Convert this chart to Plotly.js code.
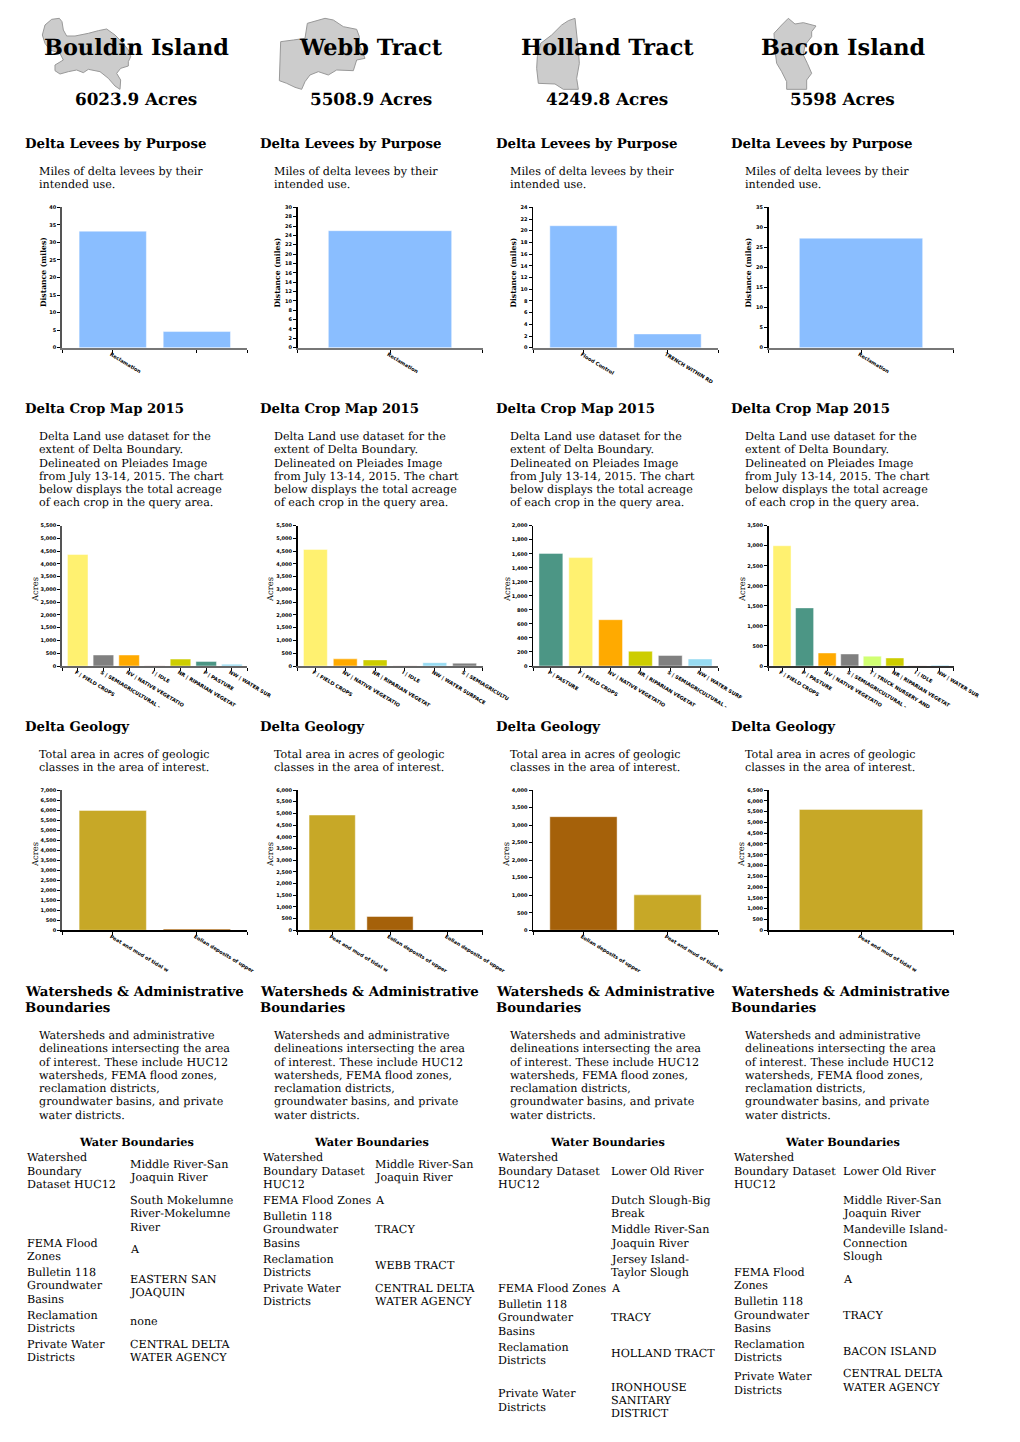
<!DOCTYPE html>
<html><head><meta charset="utf-8">
<script src="https://cdn.plot.ly/plotly-3.0.1.min.js"></script>
<style>html,body{margin:0;padding:0;background:#fff} svg text{text-rendering:geometricPrecision}</style></head>
<body><div id="chart" style="width:1020px;height:1442px"></div>
<script>
// ---------- data ----------
const islands = ["Bouldin Island", "Webb Tract", "Holland Tract", "Bacon Island"];
const acres = ["6023.9 Acres", "5508.9 Acres", "4249.8 Acres", "5598 Acres"];

const leveeCatsBouldin = ["Reclamation", ""];
const leveeValsBouldin = [33.2, 4.6];
const leveeCatsWebb = ["Reclamation"];
const leveeValsWebb = [25.0];
const leveeCatsHolland = ["Flood Control", "TRENCH WITHIN RD"];
const leveeValsHolland = [20.85, 2.35];
const leveeCatsBacon = ["Reclamation"];
const leveeValsBacon = [27.3];

const cropCatsBouldin = ["F | FIELD CROPS", "S | SEMIAGRICULTURAL -", "NV | NATIVE VEGETATIO", "I | IDLE", "NR | RIPARIAN VEGETAT", "P | PASTURE", "NW | WATER SUR"];
const cropValsBouldin = [4370, 430, 430, 5, 270, 180, 70];
const cropCatsWebb = ["F | FIELD CROPS", "NV | NATIVE VEGETATIO", "NR | RIPARIAN VEGETAT", "I | IDLE", "NW | WATER SURFACE", "S | SEMIAGRICULTU"];
const cropValsWebb = [4570, 280, 240, 10, 130, 110];
const cropCatsHolland = ["P | PASTURE", "F | FIELD CROPS", "NV | NATIVE VEGETATIO", "NR | RIPARIAN VEGETAT", "S | SEMIAGRICULTURAL -", "NW | WATER SURF"];
const cropValsHolland = [1605, 1545, 660, 210, 150, 100];
const cropCatsBacon = ["F | FIELD CROPS", "P | PASTURE", "NV | NATIVE VEGETATIO", "S | SEMIAGRICULTURAL -", "T | TRUCK NURSERY AND", "NR | RIPARIAN VEGETAT", "I | IDLE", "NW | WATER SUR"];
const cropValsBacon = [3000, 1450, 325, 300, 245, 200, 8, 20];

const geoPeat = "Peat and mud of tidal w";
const geoEolian = "Eolian deposits of upper";
const geoCatsBouldin = [geoPeat, geoEolian];
const geoValsBouldin = [5980, 60];
const geoCatsWebb = [geoPeat, geoEolian, geoEolian];
const geoValsWebb = [4930, 590, 3];
const geoCatsHolland = [geoEolian, geoPeat];
const geoValsHolland = [3240, 1010];
const geoCatsBacon = [geoPeat];
const geoValsBacon = [5600];

const leveeTicks = [[40, 5], [30, 2], [24, 2], [35, 5]];
const cropTicks = [[5500, 500], [5500, 500], [2000, 200], [3500, 500]];
const geoTicks = [[7000, 500], [6000, 500], [4000, 500], [6500, 500]];

const sectionLevee = "Delta Levees by Purpose";
const sectionCrop = "Delta Crop Map 2015";
const sectionGeo = "Delta Geology";
const sectionWater = ["Watersheds & Administrative", "Boundaries"];
const descLevee = ["Miles of delta levees by their", "intended use."];
const descCrop = ["Delta Land use dataset for the", "extent of Delta Boundary.", "Delineated on Pleiades Image", "from July 13-14, 2015. The chart", "below displays the total acreage", "of each crop in the query area."];
const descGeo = ["Total area in acres of geologic", "classes in the area of interest."];
const descWater = ["Watersheds and administrative", "delineations intersecting the area", "of interest. These include HUC12", "watersheds, FEMA flood zones,", "reclamation districts,", "groundwater basins, and private", "water districts."];
const tableTitle = "Water Boundaries";

const tableBouldin = [
  [["Watershed", "Boundary", "Dataset HUC12"], ["Middle River-San", "Joaquin River"]],
  [[], ["South Mokelumne", "River-Mokelumne", "River"]],
  [["FEMA Flood", "Zones"], ["A"]],
  [["Bulletin 118", "Groundwater", "Basins"], ["EASTERN SAN", "JOAQUIN"]],
  [["Reclamation", "Districts"], ["none"]],
  [["Private Water", "Districts"], ["CENTRAL DELTA", "WATER AGENCY"]]];
const tableWebb = [
  [["Watershed", "Boundary Dataset", "HUC12"], ["Middle River-San", "Joaquin River"]],
  [["FEMA Flood Zones"], ["A"]],
  [["Bulletin 118", "Groundwater", "Basins"], ["TRACY"]],
  [["Reclamation", "Districts"], ["WEBB TRACT"]],
  [["Private Water", "Districts"], ["CENTRAL DELTA", "WATER AGENCY"]]];
const tableHolland = [
  [["Watershed", "Boundary Dataset", "HUC12"], ["Lower Old River"]],
  [[], ["Dutch Slough-Big", "Break"]],
  [[], ["Middle River-San", "Joaquin River"]],
  [[], ["Jersey Island-", "Taylor Slough"]],
  [["FEMA Flood Zones"], ["A"]],
  [["Bulletin 118", "Groundwater", "Basins"], ["TRACY"]],
  [["Reclamation", "Districts"], ["HOLLAND TRACT"]],
  [["Private Water", "Districts"], ["IRONHOUSE", "SANITARY", "DISTRICT"]]];
const tableBacon = [
  [["Watershed", "Boundary Dataset", "HUC12"], ["Lower Old River"]],
  [[], ["Middle River-San", "Joaquin River"]],
  [[], ["Mandeville Island-", "Connection", "Slough"]],
  [["FEMA Flood", "Zones"], ["A"]],
  [["Bulletin 118", "Groundwater", "Basins"], ["TRACY"]],
  [["Reclamation", "Districts"], ["BACON ISLAND"]],
  [["Private Water", "Districts"], ["CENTRAL DELTA", "WATER AGENCY"]]];

// ---------- styles / layout ----------
const W = 1020, H = 1442;
const serif = "'DejaVu Serif', serif";
const sans = "'DejaVu Sans', sans-serif";
const colColors = {F:"#FFF170", S:"#808080", NV:"#FFAA00", NR:"#CDCD00", P:"#4C9685", NW:"#97DBF2", T:"#D1FF73", I:"#E0B0B0", Peat:"#C7A827", Eolian:"#A5610A"};
const leveeColor = "#8ABEFF";
const axisLeft = [62.3, 297.5, 533, 768.5];
const plotW = 185;
const textX = [25, 260.8, 496.5, 731.8];
const colCenter = [136, 371, 607, 842.5];
const tableLeft = [27, 263, 498.5, 734];
const tableRight = [130, 375, 611, 843.5];

const rows = [
  {top:207.3, bottom:347.7, title:"Distance (miles)", bold:true, tsize:7.6, titleX:[43.5,278,514,749], titleY:272.6, ticks:leveeTicks,
   cats:[leveeCatsBouldin,leveeCatsWebb,leveeCatsHolland,leveeCatsBacon],
   vals:[leveeValsBouldin,leveeValsWebb,leveeValsHolland,leveeValsBacon],
   xline:["#777","#777","#777","#777"], xw:2},
  {top:525.7, bottom:666, title:"Acres", bold:false, tsize:8.4, titleX:[35,270,507,742], titleY:590, ticks:cropTicks,
   cats:[cropCatsBouldin,cropCatsWebb,cropCatsHolland,cropCatsBacon],
   vals:[cropValsBouldin,cropValsWebb,cropValsHolland,cropValsBacon],
   xline:["#666","#666","#555","#333"], xw:1.5},
  {top:790, bottom:930.3, title:"Acres", bold:false, tsize:8.4, titleX:[35,270,506,741], titleY:855, ticks:geoTicks,
   cats:[geoCatsBouldin,geoCatsWebb,geoCatsHolland,geoCatsBacon],
   vals:[geoValsBouldin,geoValsWebb,geoValsHolland,geoValsBacon],
   xline:["#000","#000","#000","#000"], xw:1.5}
];

const traces = [];
const layout = {
  width:W, height:H, margin:{l:0,r:0,t:0,b:0,pad:0}, paper_bgcolor:"#fff", plot_bgcolor:"rgba(0,0,0,0)",
  showlegend:false, bargap:0.2, annotations:[], shapes:[], font:{family:serif,color:"#000"}
};

// text helper working in page pixels
function label(text, px, py, size, opts) {
  opts = opts || {};
  const center = opts.anchor === "center";
  layout.annotations.push({text:text, xref:"paper", yref:"paper", x:(center?px:px-2.5)/W, y:1-py/H,
    xanchor:center?"center":"left", yanchor:"middle", showarrow:false, align:center?"center":"left",
    textangle:opts.angle||0,
    font:{family:serif,size:size,color:"#000",weight:opts.bold?"bold":"normal"}});
}

let n = 0;
rows.forEach((row, r) => {
  row.cats.forEach((cats, c) => {
    n++;
    const xa = "xaxis" + n, ya = "yaxis" + n;
    const idx = cats.map((_, i) => i);
    const colors = r === 0 ? cats.map(() => leveeColor)
      : cats.map(s => colColors[s.split(/ \| | /)[0]]);
    traces.push({type:"bar", x:idx, y:row.vals[c], xaxis:"x"+n, yaxis:"y"+n,
      marker:{color:colors, line:{color:"rgba(255,255,255,0.45)", width:1}}, hoverinfo:"skip"});
    layout[xa] = {
      domain:[axisLeft[c]/W, (axisLeft[c]+plotW)/W], anchor:"y"+n, range:[-0.6, cats.length-0.4],
      tickmode:"array", tickvals:[-0.6, ...idx, cats.length-0.4], ticktext:["", ...cats, ""],
      tickangle:31, tickfont:{family:sans,size:5,color:"#000",weight:"bold"},
      ticks:"outside", ticklen:3, tickwidth:1, tickcolor:"#000", ticklabelstandoff:-3, ticklabelshift:-2,
      showgrid:false, zeroline:false, showline:true, linecolor:row.xline[c], linewidth:row.xw, automargin:false
    };
    layout[ya] = {
      domain:[1-row.bottom/H, 1-row.top/H], anchor:"x"+n, range:[0,row.ticks[c][0]], dtick:row.ticks[c][1],
      tickformat:",d", tickfont:{family:sans,size:5,color:"#000",weight:"bold"},
      ticks:"outside", ticklen:3, tickwidth:1, tickcolor:"#000",
      showgrid:false, zeroline:false, showline:true,
      linecolor:c===0?"#555":"#000", linewidth:c===0?2:1.5, automargin:false
    };
    label(row.title, row.titleX[c], row.titleY, row.tsize, {anchor:"center", angle:-90, bold:row.bold});
  });
});

const LH = 13.25;
const sectionY = {levee:145, crop:409, geo:727, water:992};
const descY = {levee:171.5, crop:436.5, geo:754.5, water:1035.5};
const titleSize = 22.4, acresSize = 16.8, sectionSize = 13.3, bodySize = 11.15, tableHeadSize = 11.3;
islands.forEach((name, c) => {
  label(name, colCenter[c], 48, titleSize, {anchor:"center", bold:true});
  label(acres[c], colCenter[c], 99, acresSize, {anchor:"center", bold:true});
  label(sectionLevee, textX[c], sectionY.levee, sectionSize, {bold:true});
  label(sectionCrop, textX[c], sectionY.crop, sectionSize, {bold:true});
  label(sectionGeo, textX[c], sectionY.geo, sectionSize, {bold:true});
  sectionWater.forEach((t,i) => label(t.replace("&","&amp;"), textX[c], sectionY.water+16*i, sectionSize, {bold:true}));
  const dx = textX[c] + 14;
  descLevee.forEach((t,i) => label(t, dx, descY.levee+LH*i, bodySize));
  descCrop.forEach((t,i) => label(t, dx, descY.crop+LH*i, bodySize));
  descGeo.forEach((t,i) => label(t, dx, descY.geo+LH*i, bodySize));
  descWater.forEach((t,i) => label(t, dx, descY.water+LH*i, bodySize));
  label(tableTitle, colCenter[c], 1141.5, tableHeadSize, {anchor:"center", bold:true});
});

// tables: rows stack, cells are vertically centred in their row
const tableLine = 13.33, rowGap = 2.67;
const extraGapAfter = {"2:6":10.7};   // table:row, spacing in the source layout
const labelNudge = {"3:6":3};
[tableBouldin, tableWebb, tableHolland, tableBacon].forEach((table, c) => {
  let top = 1151.1;
  table.forEach(([left, right], ri) => {
    const lines = Math.max(left.length, right.length);
    [[left, tableLeft[c], labelNudge[c+":"+ri]||0], [right, tableRight[c], 0]].forEach(([cell, x, nudge]) => {
      const start = top + nudge + (lines - cell.length) * tableLine / 2;
      cell.forEach((t, i) => label(t, x, start + (i + 0.5) * tableLine, bodySize));
    });
    top += lines * tableLine + rowGap + (extraGapAfter[c+":"+ri]||0);
  });
});

// decorative island outlines (page pixels x3, from the header artwork)
const outlines = [
 {ox:0, pts:[[127,105],[135,75],[155,58],[178,55],[186,65],[190,90],[200,108],[225,108],[265,100],[295,92],[320,87],[345,105],[365,125],[385,150],[392,170],[385,185],[385,198],[362,205],[350,220],[362,240],[360,268],[345,258],[325,235],[300,215],[265,208],[250,218],[230,210],[205,215],[180,222],[165,212],[165,195],[190,180],[180,160],[150,150],[135,130]]},
 {ox:0, pts:[[838,242],[842,125],[880,120],[915,115],[922,70],[975,55],[1000,60],[1030,80],[1070,88],[1078,110],[1075,130],[1085,150],[1095,175],[1070,180],[1060,212],[1010,210],[985,225],[955,215],[930,225],[915,245],[905,268],[885,262],[860,250]]},
 {ox:510, pts:[[195,55],[205,150],[208,190],[200,235],[205,268],[160,268],[135,252],[85,250],[80,205],[82,170],[92,130],[125,105],[155,75],[175,62]]},
 {ox:510, pts:[[835,55],[855,72],[880,68],[918,78],[905,95],[905,110],[885,135],[880,165],[892,190],[905,220],[890,240],[890,268],[830,268],[830,245],[815,215],[800,190],[795,150],[792,100],[815,75]]}
];
outlines.forEach(o => {
  const d = o.pts.map((p,i) => (i?"L":"M") + ((o.ox+p[0]/3)/W).toFixed(5) + "," + (1-(p[1]/3)/H).toFixed(5)).join(" ") + " Z";
  layout.shapes.push({type:"path", xref:"paper", yref:"paper", path:d, fillcolor:"#CCCCCC", line:{color:"#999",width:1}, layer:"below"});
});

Plotly.newPlot("chart", traces, layout, {staticPlot:true, displayModeBar:false});
</script></body></html>
